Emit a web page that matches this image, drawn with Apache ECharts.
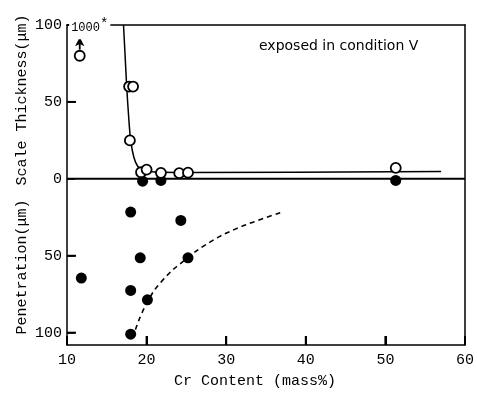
<!DOCTYPE html>
<html>
<head>
<meta charset="utf-8">
<script src="https://cdn.jsdelivr.net/npm/echarts@6/dist/echarts.min.js"></script>
<style>
  html, body { margin: 0; padding: 0; background: #fff; }
  #chart { width: 477px; height: 396px; }
</style>
</head>
<body>
<div id="chart"></div>
<script>
// Scale thickness (open circles), um, plotted upward
const scaleOpen = [
  [17.8, 60], [18.3, 60], [17.9, 25], [19.3, 4.3], [20.0, 6],
  [21.8, 3.9], [24.1, 3.7], [25.2, 4.0], [51.3, 7.1]
];
// off-scale point (1000 um) drawn at the top with an arrow
const scaleOff = [[11.6, 80]];
const offArrow = [[11.6, 84], [11.6, 92]];

// Penetration (filled circles), um, plotted downward (negative)
const penetration = [
  [11.8, -64.5], [18.0, -21.6], [24.3, -27], [19.2, -51.3], [25.2, -51.3],
  [18.0, -72.5], [20.1, -78.6], [18.0, -101], [19.5, -1.5], [21.8, -1.0],
  [51.3, -1.0]
];

// hand-drawn trend curves
const scaleCurve = [
  [17.1, 100], [17.3, 80], [17.5, 60], [17.75, 40], [18.0, 25], [18.4, 14],
  [18.9, 8], [19.6, 5.5], [21, 4.4], [25, 4.1], [57, 4.8]
];
const penCurve = [
  [18.6, -98], [20, -81], [22, -66], [25, -52], [28, -41], [31, -33],
  [34, -27], [36.8, -22]
];
const zeroLine = [[10, 0], [60, 0]];

const X_MIN = 10;
const Y_MIN = -108;
const xTickValues = [20, 30, 40, 50];
const yTicks = [-100, -50, 0, 50, 100];
const yTickValues = [-100, -50, 50, 100];

const MONO = "'Liberation Mono', 'DejaVu Sans Mono', monospace";
const frameAxis = {
  axisLine: { show: true, onZero: false, lineStyle: { color: "#000", width: 1.5 } },
  axisTick: { show: false },
  axisLabel: { show: false },
  splitLine: { show: false },
};

const chart = echarts.init(document.getElementById("chart"));

const option = {
  animation: false,
  backgroundColor: "#fff",
  grid: {
    left: 67,
    right: 9,
    top: 25,
    bottom: 51,
  },
  title: {
    text: "exposed in condition \u2164",
    left: 254,
    top: 34,
    textStyle: {
      fontFamily: "'DejaVu Sans', 'Noto Sans CJK JP', sans-serif",
      fontSize: 14,
      fontWeight: "normal",
      color: "#000",
    },
  },
  graphic: [
    {
      type: "text",
      x: 22,
      y: 100,
      rotation: Math.PI / 2,
      style: {
        text: "Scale Thickness(\u03bcm)",
        font: "15px " + MONO,
        fill: "#000",
        align: "center",
        verticalAlign: "middle",
      },
    },
    {
      type: "text",
      x: 22,
      y: 267,
      rotation: Math.PI / 2,
      style: {
        text: "Penetration(\u03bcm)",
        font: "15px " + MONO,
        fill: "#000",
        align: "center",
        verticalAlign: "middle",
      },
    },
  ],
  xAxis: [
    {
      type: "value",
      min: X_MIN,
      max: 60,
      interval: 10,
      name: "Cr Content (mass%)",
      nameLocation: "middle",
      nameGap: 29,
      nameTextStyle: { fontFamily: MONO, fontSize: 15, color: "#000", padding: [0, 22, 0, 0] },
      axisLine: { show: true, onZero: false, lineStyle: { color: "#000", width: 1.5 } },
      axisTick: { show: true, inside: true, length: 9, lineStyle: { color: "#000", width: 2 } },
      axisLabel: {
        color: "#000",
        fontFamily: MONO,
        fontSize: 15,
        margin: 8,
      },
      splitLine: { show: false },
    },
    Object.assign({ type: "value", min: X_MIN, max: 60, position: "top" }, frameAxis),
  ],
  yAxis: [
    {
      type: "value",
      min: Y_MIN,
      max: 100,
      axisLine: { show: true, onZero: false, lineStyle: { color: "#000", width: 1.5 } },
      axisTick: {
        show: true,
        inside: true,
        length: 8,
        customValues: yTicks,
        lineStyle: { color: "#000", width: 1.5 },
      },
      axisLabel: {
        color: "#000",
        fontFamily: MONO,
        fontSize: 15,
        margin: 5,
        customValues: yTicks,
        formatter: (v) => String(Math.abs(v)),
      },
      splitLine: { show: false },
    },
    Object.assign({ type: "value", min: Y_MIN, max: 100, position: "right" }, frameAxis),
  ],
  series: [
    // inward tick marks along the bottom and left axes
    {
      type: "scatter",
      data: xTickValues.map((v) => [v, Y_MIN]),
      symbol: "rect",
      symbolSize: [2, 9],
      symbolOffset: [0, -4.5],
      itemStyle: { color: "#000", opacity: 1 },
      clip: false,
      silent: true,
      z: 1,
    },
    {
      type: "scatter",
      data: yTickValues.map((v) => [X_MIN, v]),
      symbol: "rect",
      symbolSize: [9, 2],
      symbolOffset: [4.5, 0],
      itemStyle: { color: "#000", opacity: 1 },
      clip: false,
      silent: true,
      z: 1,
    },
    {
      type: "line",
      data: zeroLine,
      symbol: "none",
      lineStyle: { color: "#000", width: 2 },
      z: 1,
    },
    {
      type: "line",
      data: scaleCurve,
      smooth: 0.3,
      symbol: "none",
      lineStyle: { color: "#000", width: 1.5 },
      z: 1,
    },
    {
      type: "line",
      data: penCurve,
      smooth: true,
      symbol: "none",
      lineStyle: { color: "#000", width: 1.6, type: [5, 4] },
      z: 1,
    },
    {
      type: "scatter",
      data: penetration,
      symbol: "circle",
      symbolSize: 11,
      itemStyle: { color: "#000", opacity: 1 },
      z: 3,
    },
    {
      type: "scatter",
      data: scaleOpen.concat(scaleOff),
      symbol: "circle",
      symbolSize: 10,
      itemStyle: { color: "#fff", borderColor: "#000", borderWidth: 1.8, opacity: 1 },
      z: 4,
    },
    {
      type: "line",
      data: [
        { value: offArrow[0], symbol: "none" },
        {
          value: offArrow[1],
          symbol: "arrow",
          symbolSize: [7, 9],
          label: {
            show: true,
            position: "top",
            distance: 0,
            offset: [10, 2],
            formatter: "{a|1000}{b|*}",
            backgroundColor: "#fff",
            padding: [6, 2, 0, 2],
            rich: {
              a: { fontFamily: MONO, fontSize: 12, color: "#000", letterSpacing: 1.5 },
              b: { fontFamily: MONO, fontSize: 14, color: "#000", verticalAlign: "top", padding: [0, 0, 8, 0] },
            },
          },
        },
      ],
      lineStyle: { color: "#000", width: 1.8 },
      itemStyle: { color: "#000" },
      z: 5,
    },
  ],
};

chart.setOption(option);
</script>
</body>
</html>
